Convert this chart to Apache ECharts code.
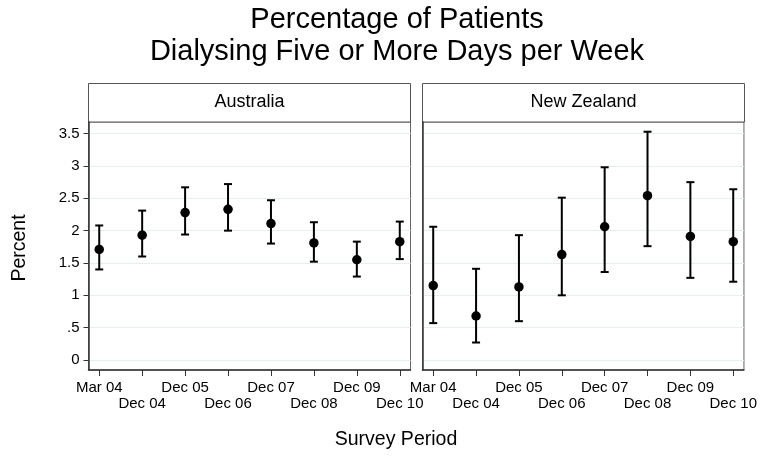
<!DOCTYPE html>
<html>
<head>
<meta charset="utf-8">
<script src="https://cdn.jsdelivr.net/npm/echarts@6/dist/echarts.min.js"></script>
<style>html,body{margin:0;padding:0;background:#fff}#c{width:760px;height:458px}</style>
</head>
<body>
<div id="c"></div>
<script>
const periods = ['Mar 04','Dec 04','Dec 05','Dec 06','Dec 07','Dec 08','Dec 09','Dec 10'];
const panels = ['Australia','New Zealand'];
const yTicks = [0,0.5,1,1.5,2,2.5,3,3.5];
const auMean = [1.71,1.93,2.28,2.33,2.11,1.81,1.55,1.83];
const auLow  = [1.40,1.60,1.94,2.00,1.80,1.52,1.29,1.56];
const auHigh = [2.08,2.31,2.67,2.72,2.47,2.13,1.83,2.14];
const nzMean = [1.15,0.68,1.13,1.63,2.06,2.54,1.91,1.83];
const nzLow  = [0.57,0.27,0.60,1.00,1.36,1.76,1.27,1.21];
const nzHigh = [2.06,1.41,1.93,2.51,2.98,3.53,2.75,2.64];

const FONT = 'Liberation Sans, Arial, sans-serif';
const chart = echarts.init(document.getElementById('c'), null, {renderer:'canvas'});

const gridPos = [{left:88.5, width:322}, {left:422.5, width:322}];
const TOP = 122, HEIGHT = 248;
const allIdx = periods.map((p,k)=>k);
const evenIdx = allIdx.filter(k=>k%2===0);
const oddIdx = allIdx.filter(k=>k%2===1);

function xAxisMain(i){
  return {
    type:'value', gridIndex:i, position:'bottom', min:-0.25, max:7.25,
    axisLine:{show:true, onZero:false, lineStyle:{color:'#333', width:1.5}},
    axisTick:{show:true, length:6, customValues:allIdx, lineStyle:{color:'#333', width:1}},
    axisLabel:{customValues:evenIdx, fontFamily:FONT, fontSize:15, color:'#000', margin:10,
      formatter:v=>periods[Math.round(v)]},
    splitLine:{show:false}
  };
}
function xAxisOdd(i){
  return {
    type:'value', gridIndex:i, position:'bottom', offset:0, min:-0.25, max:7.25,
    axisLine:{show:false, onZero:false},
    axisTick:{show:false, customValues:oddIdx},
    axisLabel:{customValues:oddIdx, fontFamily:FONT, fontSize:15, color:'#000', margin:26,
      formatter:v=>periods[Math.round(v)]},
    splitLine:{show:false}
  };
}
function yAxis(i){
  return {
    type:'value', gridIndex:i, min:-0.155, max:3.68,
    axisLine:{show:true, onZero:false, lineStyle:{color:'#333', width:1.5}},
    axisTick:{show:i===0, length:5, customValues:yTicks, lineStyle:{color:'#333', width:1}},
    axisLabel:{show:i===0, customValues:yTicks, fontFamily:FONT, fontSize:15, color:'#000', margin:9,
      formatter:v=> v===0 ? '0' : (v<1 ? String(v).replace(/^0/,'') : String(v))},
    splitLine:{show:true, lineStyle:{color:'#e6efef', width:1}}
  };
}

function errSeries(i, lo, hi){
  return {
    type:'custom', xAxisIndex:i, yAxisIndex:i, z:2,
    data: lo.map((v,k)=>[k, v, hi[k]]),
    encode:{x:0, y:[1,2]},
    renderItem:(params, api)=>{
      const x = api.value(0);
      const a = api.coord([x, api.value(2)]);
      const b = api.coord([x, api.value(1)]);
      const w = 4;
      const st = {stroke:'#000', lineWidth:2};
      return {type:'group', children:[
        {type:'line', shape:{x1:a[0], y1:a[1], x2:b[0], y2:b[1]}, style:st},
        {type:'line', shape:{x1:a[0]-w, y1:a[1], x2:a[0]+w, y2:a[1]}, style:st},
        {type:'line', shape:{x1:b[0]-w, y1:b[1], x2:b[0]+w, y2:b[1]}, style:st}
      ]};
    }
  };
}
function dotSeries(i, m){
  return {type:'scatter', xAxisIndex:i, yAxisIndex:i, z:3, symbol:'circle', symbolSize:9.5,
    itemStyle:{color:'#000', opacity:1}, data:m.map((v,k)=>[k,v])};
}

const graphics = [];
panels.forEach((name,i)=>{
  graphics.push({type:'rect', shape:{x:gridPos[i].left, y:83.5, width:gridPos[i].width, height:TOP-83.5},
    style:{fill:'#fff', stroke:'#555', lineWidth:1}});
  graphics.push({type:'text', x:gridPos[i].left+gridPos[i].width/2, y:102.5,
    style:{text:name, font:'18px '+FONT, fill:'#000', textAlign:'center', textVerticalAlign:'middle'}});
});
graphics.push({type:'text', x:397, y:20, style:{text:'Percentage of Patients', font:'29px '+FONT, fill:'#000', textAlign:'center', textVerticalAlign:'middle'}});
graphics.push({type:'text', x:397, y:52, style:{text:'Dialysing Five or More Days per Week', font:'29px '+FONT, fill:'#000', textAlign:'center', textVerticalAlign:'middle'}});
graphics.push({type:'text', x:20, y:248, rotation:Math.PI/2, style:{text:'Percent', font:'19.5px '+FONT, fill:'#000', textAlign:'center', textVerticalAlign:'middle'}});
graphics.push({type:'text', x:396, y:440, style:{text:'Survey Period', font:'19.5px '+FONT, fill:'#000', textAlign:'center', textVerticalAlign:'middle'}});

chart.setOption({
  animation:false,
  backgroundColor:'#fff',
  grid: gridPos.map(g=>({left:g.left, width:g.width, top:TOP, height:HEIGHT, show:true, borderColor:'#666', borderWidth:1, backgroundColor:'#fff'})),
  xAxis:[xAxisMain(0), xAxisMain(1), xAxisOdd(0), xAxisOdd(1)],
  yAxis:[yAxis(0), yAxis(1)],
  series:[errSeries(0, auLow, auHigh), dotSeries(0, auMean), errSeries(1, nzLow, nzHigh), dotSeries(1, nzMean)],
  graphic: graphics
});
</script>
</body>
</html>
